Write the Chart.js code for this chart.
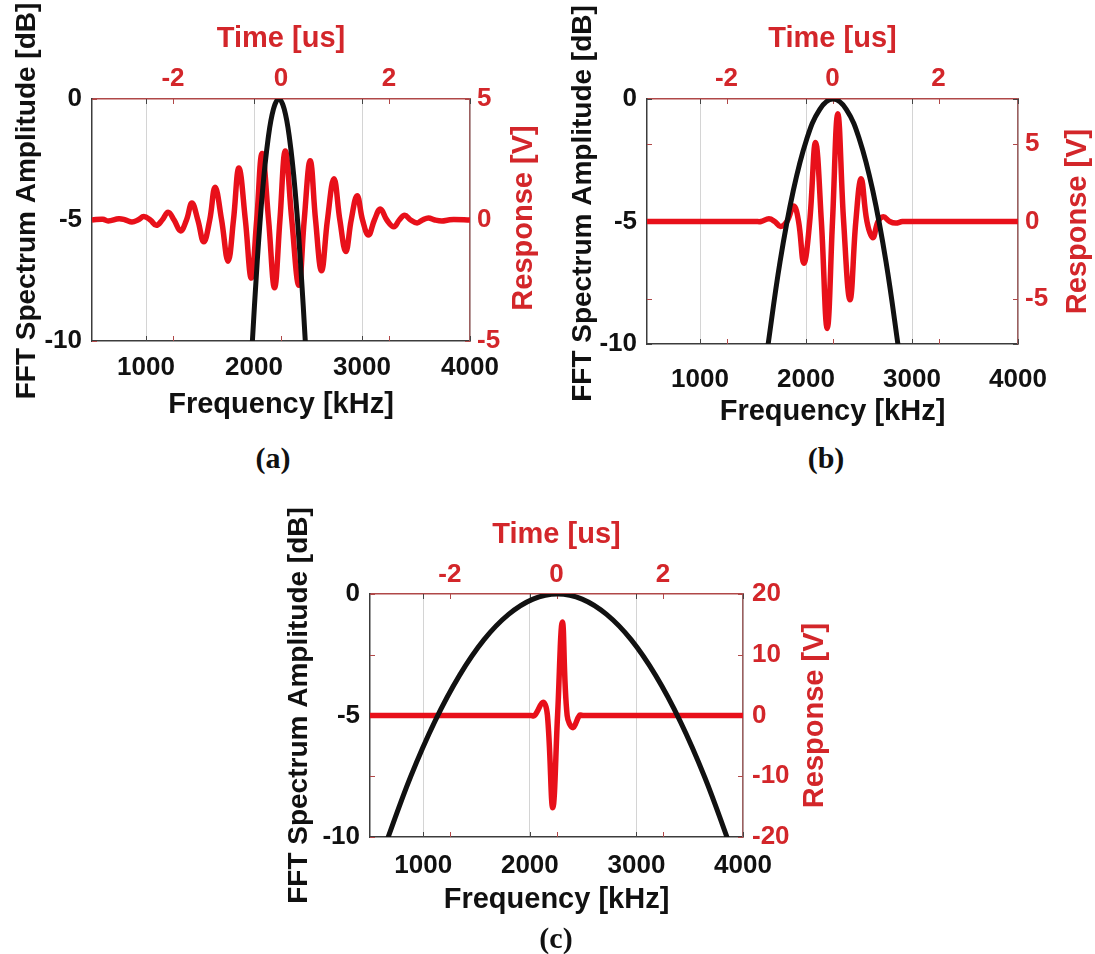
<!DOCTYPE html>
<html><head><meta charset="utf-8">
<script src="https://cdn.jsdelivr.net/npm/chart.js@4.4.1/dist/chart.umd.min.js"></script>
<style>
html,body{margin:0;padding:0;background:#fff;}
#wrap{position:relative;width:1095px;height:954px;overflow:hidden;background:#fff;}
canvas{position:absolute;}
.lbl{position:absolute;font-family:'Liberation Serif','Times New Roman',serif;font-weight:bold;font-size:30px;color:#111;transform:translate(-50%,-50%);white-space:nowrap;}
</style></head><body>
<div id="wrap">
<canvas id="ca" width="548" height="435" style="left:0px;top:0px"></canvas>
<canvas id="cb" width="547" height="435" style="left:548px;top:0px"></canvas>
<canvas id="cc" width="580" height="435" style="left:270px;top:490px"></canvas>
<div class="lbl" style="left:273px;top:458px">(a)</div>
<div class="lbl" style="left:826px;top:458px">(b)</div>
<div class="lbl" style="left:556px;top:938px">(c)</div>
</div>
<script>
// ---- tick labels ----
const freqTicks = [1000, 2000, 3000, 4000];
const dbTicks = [0, -5, -10];
const timeTicks = [-2, 0, 2];
const voltTicksA = [-5, 0, 5];
const voltTicksB = [-5, 0, 5];
const voltTicksC = [-20, -10, 0, 10, 20];

// ---- axis text ----
const freqTitle = 'Frequency [kHz]';
const timeTitle = 'Time [us]';
const dbTitle = 'FFT Spectrum Amplitude [dB]';
const voltTitle = 'Response [V]';

// ---- panel (a) ----
const specFreqA = [1980, 2030, 2080, 2130, 2180, 2230, 2280, 2330, 2380, 2430, 2480];
const specDbA   = [-10.4, -6.7, -3.75, -1.67, -0.42, 0, -0.42, -1.67, -3.75, -6.7, -10.4];
const respTimeA = [-3.5, -3.3, -3.2, -3.0, -2.88, -2.76, -2.65, -2.54, -2.42, -2.31, -2.2, -2.09, -1.98, -1.86, -1.75, -1.65, -1.54, -1.43, -1.32, -1.22, -1.1, -0.98, -0.88, -0.78, -0.66, -0.55, -0.45, -0.35, -0.23, -0.12, -0.02, 0.08, 0.2, 0.33, 0.43, 0.54, 0.64, 0.75, 0.86, 0.98, 1.09, 1.2, 1.3, 1.41, 1.51, 1.62, 1.73, 1.84, 1.96, 2.09, 2.19, 2.29, 2.4, 2.52, 2.62, 2.73, 2.85, 2.98, 3.1, 3.2, 3.5];
const respVoltA = [0, 0.03, -0.04, 0.05, 0, -0.08, 0, 0.14, 0, -0.22, 0, 0.32, 0, -0.45, 0, 0.7, 0, -0.9, 0, 1.35, 0, -1.7, 0, 2.15, 0, -2.4, 0, 2.75, 0, -2.8, 0, 2.85, 0, -2.7, 0, 2.45, 0, -2.1, 0, 1.7, 0, -1.3, 0, 1.0, 0, -0.62, 0, 0.45, 0, -0.28, 0, 0.2, 0, -0.12, 0, 0.08, 0, -0.04, 0, 0.02, 0];

// ---- panel (b) ----
const specFreqB = [1630, 1755, 1880, 2005, 2130, 2255, 2380, 2505, 2630, 2755, 2880];
const specDbB   = [-10.4, -6.65, -3.74, -1.66, -0.42, 0, -0.42, -1.66, -3.74, -6.65, -10.4];
const respTimeB = [-3.5, -3.0, -2.5, -2.0, -1.6, -1.45, -1.35, -1.2, -1.09, -0.98, -0.86, -0.73, -0.64, -0.54, -0.43, -0.32, -0.21, -0.1, 0.0, 0.1, 0.21, 0.33, 0.44, 0.54, 0.65, 0.76, 0.86, 0.96, 1.08, 1.19, 1.32, 1.45, 1.6, 2.0, 2.5, 3.0, 3.5];
const respVoltB = [0, 0, 0, 0, 0, 0, 0, 0.18, 0, -0.32, 0, 1.0, 0, -2.7, 0, 5.1, 0, -6.9, 0, 6.95, 0, -5.05, 0, 2.75, 0, -1.05, 0, 0.3, 0, -0.1, 0, 0, 0, 0, 0, 0, 0];

// ---- panel (c) ----
const specFreqC = [650, 880, 1110, 1340, 1570, 1800, 2030, 2260, 2490, 2720, 2950, 3180, 3410, 3640, 3870];
const specDbC   = [-10.25, -7.53, -5.23, -3.35, -1.88, -0.84, -0.21, 0, -0.21, -0.84, -1.88, -3.35, -5.23, -7.53, -10.25];
const respTimeC = [-3.5, -3.0, -2.5, -2.0, -1.5, -1.0, -0.7, -0.55, -0.48, -0.41, -0.25, -0.17, -0.07, 0.02, 0.11, 0.2, 0.31, 0.43, 0.5, 0.6, 0.8, 1.2, 1.6, 2.0, 2.5, 3.0, 3.5];
const respVoltC = [0, 0, 0, 0, 0, 0, 0, 0, 0, 0, 2.2, 0, -15.2, 0, 15.4, 0, -2.0, 0, 0, 0, 0, 0, 0, 0, 0, 0, 0];

const FONT = "'Liberation Sans', Arial, Helvetica, sans-serif";
const RED_LINE = '#e8101a';
const RED_TEXT = '#d3262a';
const BLACK = '#111111';
Chart.defaults.font.family = FONT;

const zip = (xs, ys) => xs.map((x, i) => ({x: x, y: ys[i]}));

const vTitles = {
  id: 'vTitles',
  afterDraw(chart, args, opts) {
    const ctx = chart.ctx, a = chart.chartArea;
    (opts.items || []).forEach(it => {
      ctx.save();
      ctx.font = 'bold ' + it.size + 'px ' + FONT;
      ctx.fillStyle = it.color;
      ctx.textAlign = 'center';
      ctx.textBaseline = 'middle';
      ctx.translate(it.x, (a.top + a.bottom) / 2 + it.dy);
      ctx.rotate(-Math.PI / 2);
      ctx.fillText(it.text, 0, 0);
      ctx.restore();
    });
  }
};

const innerTicks = {
  id: 'innerTicks',
  beforeDatasetsDraw(chart, args, opts) {
    const ctx = chart.ctx, a = chart.chartArea, L = 5;
    ctx.save();
    ctx.lineWidth = 1;
    ['x', 'xt'].forEach(id => {
      const s = chart.scales[id];
      ctx.strokeStyle = opts[id];
      s.ticks.forEach(t => {
        const p = Math.round(s.getPixelForValue(t.value)) + 0.5;
        ctx.beginPath();
        ctx.moveTo(p, a.bottom); ctx.lineTo(p, a.bottom - L);
        ctx.moveTo(p, a.top); ctx.lineTo(p, a.top + L);
        ctx.stroke();
      });
    });
    ['y', 'yr'].forEach(id => {
      const s = chart.scales[id];
      ctx.strokeStyle = opts[id];
      s.ticks.forEach(t => {
        const p = Math.round(s.getPixelForValue(t.value)) + 0.5;
        ctx.beginPath();
        ctx.moveTo(a.left, p); ctx.lineTo(a.left + L, p);
        ctx.moveTo(a.right, p); ctx.lineTo(a.right - L, p);
        ctx.stroke();
      });
    });
    ctx.restore();
  }
};

function fixTicks(list) {
  return s => { s.ticks = list.map(v => ({value: v})); };
}

function makePanel(id, d, g) {
  const tickFont = {size: 26, weight: 'bold'};
  const titleFont = {size: 29, weight: 'bold'};
  return new Chart(document.getElementById(id), {
    type: 'line',
    data: {
      datasets: [
        {data: zip(d.freq, d.db), xAxisID: 'x', yAxisID: 'y', borderColor: BLACK,
         borderWidth: 5, pointRadius: 0, tension: 0.4, order: 1},
        {data: zip(d.time, d.volt), xAxisID: 'xt', yAxisID: 'yr', borderColor: RED_LINE,
         borderWidth: 5.5, pointRadius: 0, tension: 0.4, order: 2}
      ]
    },
    options: {
      responsive: false, animation: false, devicePixelRatio: 1,
      layout: {padding: 0},
      plugins: {
        legend: {display: false}, tooltip: {enabled: false},
        innerTicks: {x: '#444', xt: '#b04848', y: '#444', yr: '#b04848'},
        vTitles: {items: [
          {text: dbTitle, color: BLACK, size: 28, x: g.lTitleX, dy: g.lTitleDy},
          {text: voltTitle, color: RED_TEXT, size: 29, x: g.rTitleX, dy: g.rTitleDy}
        ]}
      },
      scales: {
        x: {type: 'linear', position: 'bottom', min: 500, max: 4000,
            afterBuildTicks: fixTicks(freqTicks),
            afterFit: s => { s.height = g.bottom; },
            grid: {display: true, color: '#d4d4d4', lineWidth: 1, drawTicks: false},
            border: {display: true, color: '#3c3c3c', width: 1.5},
            ticks: {color: BLACK, font: tickFont, padding: g.bPad, autoSkip: false, maxRotation: 0,
                    callback: v => String(v)},
            title: {display: true, text: freqTitle, color: BLACK, font: titleFont,
                    padding: {top: g.bTitlePad, bottom: g.bTitlePad}}},
        xt: {type: 'linear', position: 'top', min: -3.5, max: 3.5,
            afterBuildTicks: fixTicks(timeTicks),
            afterFit: s => { s.height = g.top; },
            grid: {display: false, drawTicks: false},
            border: {display: true, color: '#b04848', width: 1.5},
            ticks: {color: RED_TEXT, font: tickFont, padding: g.tPad, autoSkip: false, maxRotation: 0,
                    callback: v => String(v)},
            title: {display: true, text: timeTitle, color: RED_TEXT, font: titleFont,
                    padding: {top: g.tTitlePad, bottom: g.tTitlePad}}},
        y: {type: 'linear', position: 'left', min: -10, max: 0,
            afterBuildTicks: fixTicks(dbTicks),
            afterFit: s => { s.width = g.left; },
            grid: {display: false, drawTicks: false},
            border: {display: true, color: '#3c3c3c', width: 1.5},
            ticks: {color: BLACK, font: tickFont, padding: g.lPad, callback: v => String(v)}},
        yr: {type: 'linear', position: 'right', min: d.vmin, max: d.vmax,
            afterBuildTicks: fixTicks(d.vticks),
            afterFit: s => { s.width = g.right; },
            grid: {display: false, drawTicks: false},
            border: {display: true, color: '#9c6060', width: 1.5},
            ticks: {color: RED_TEXT, font: tickFont, padding: g.rPad, callback: v => String(v)}}
      }
    },
    plugins: [innerTicks, vTitles]
  });
}

makePanel('ca',
  {freq: specFreqA, db: specDbA, time: respTimeA, volt: respVoltA, vmin: -5, vmax: 5, vticks: voltTicksA},
  {left: 92, right: 78, top: 99, bottom: 94, bPad: 11, tPad: 5, lPad: 10, rPad: 7,
   bTitlePad: 13, tTitlePad: 22, lTitleX: 27, lTitleDy: -19, rTitleX: 524, rTitleDy: -2});

makePanel('cb',
  {freq: specFreqB, db: specDbB, time: respTimeB, volt: respVoltB, vmin: -7.9, vmax: 7.9, vticks: voltTicksB},
  {left: 99, right: 77, top: 99, bottom: 91, bPad: 20, tPad: 5, lPad: 10, rPad: 7,
   bTitlePad: 6, tTitlePad: 22, lTitleX: 35, lTitleDy: -18, rTitleX: 530, rTitleDy: 0});

makePanel('cc',
  {freq: specFreqC, db: specDbC, time: respTimeC, volt: respVoltC, vmin: -20, vmax: 20, vticks: voltTicksC},
  {left: 100, right: 107, top: 104, bottom: 88, bPad: 13, tPad: 4, lPad: 10, rPad: 9,
   bTitlePad: 8, tTitlePad: 28, lTitleX: 29, lTitleDy: -10, rTitleX: 545, rTitleDy: 0});
</script>
</body></html>
